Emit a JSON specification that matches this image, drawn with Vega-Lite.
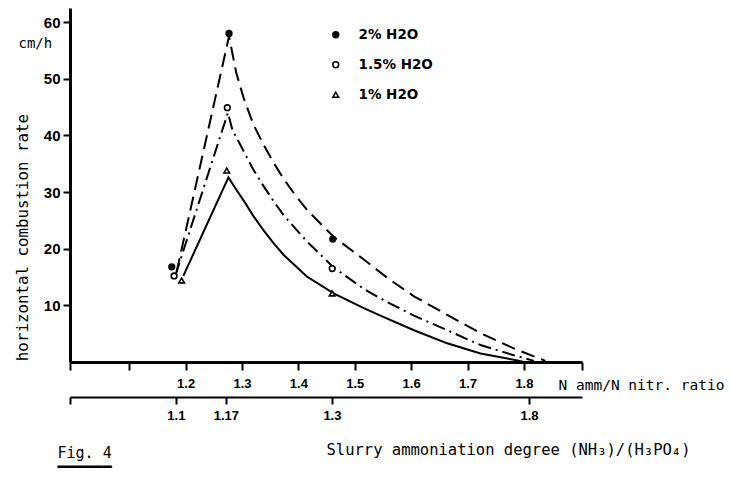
{
  "$schema": "https://vega.github.io/schema/vega-lite/v6.json",
  "width": 512,
  "height": 354,
  "autosize": "none",
  "padding": {"left": 70, "top": 8, "right": 148, "bottom": 123},
  "background": "white",
  "config": {
    "view": {"stroke": null},
    "axis": {"grid": false, "domainColor": "black", "tickColor": "black", "labelColor": "black", "titleColor": "black", "labelOverlap": false, "labelFlush": false, "titleFontWeight": "normal", "titleFont": "DejaVu Sans Mono"}
  },
  "datasets": {
    "curves": [
      {"series": "2% H2O", "x": 1.184, "y": 15.9},
      {"series": "2% H2O", "x": 1.277, "y": 57.5},
      {"series": "2% H2O", "x": 1.29, "y": 51.0},
      {"series": "2% H2O", "x": 1.303, "y": 46.6},
      {"series": "2% H2O", "x": 1.32, "y": 42.0},
      {"series": "2% H2O", "x": 1.338, "y": 38.4},
      {"series": "2% H2O", "x": 1.356, "y": 35.2},
      {"series": "2% H2O", "x": 1.374, "y": 32.3},
      {"series": "2% H2O", "x": 1.395, "y": 29.4},
      {"series": "2% H2O", "x": 1.415, "y": 26.9},
      {"series": "2% H2O", "x": 1.4625, "y": 22.1},
      {"series": "2% H2O", "x": 1.516, "y": 18.1},
      {"series": "2% H2O", "x": 1.557, "y": 14.9},
      {"series": "2% H2O", "x": 1.605, "y": 11.6},
      {"series": "2% H2O", "x": 1.664, "y": 8.3},
      {"series": "2% H2O", "x": 1.723, "y": 5.1},
      {"series": "2% H2O", "x": 1.782, "y": 2.4},
      {"series": "2% H2O", "x": 1.838, "y": 0.2},
      {"series": "1.5% H2O", "x": 1.182, "y": 15.3},
      {"series": "1.5% H2O", "x": 1.275, "y": 44.0},
      {"series": "1.5% H2O", "x": 1.283, "y": 41.0},
      {"series": "1.5% H2O", "x": 1.303, "y": 37.2},
      {"series": "1.5% H2O", "x": 1.32, "y": 34.0},
      {"series": "1.5% H2O", "x": 1.338, "y": 31.1},
      {"series": "1.5% H2O", "x": 1.356, "y": 28.4},
      {"series": "1.5% H2O", "x": 1.374, "y": 25.9},
      {"series": "1.5% H2O", "x": 1.415, "y": 21.3},
      {"series": "1.5% H2O", "x": 1.4625, "y": 16.7},
      {"series": "1.5% H2O", "x": 1.516, "y": 12.9},
      {"series": "1.5% H2O", "x": 1.557, "y": 10.6},
      {"series": "1.5% H2O", "x": 1.605, "y": 8.2},
      {"series": "1.5% H2O", "x": 1.664, "y": 5.6},
      {"series": "1.5% H2O", "x": 1.723, "y": 3.0},
      {"series": "1.5% H2O", "x": 1.782, "y": 1.2},
      {"series": "1.5% H2O", "x": 1.818, "y": 0.2},
      {"series": "1% H2O", "x": 1.196, "y": 15.2},
      {"series": "1% H2O", "x": 1.276, "y": 32.6},
      {"series": "1% H2O", "x": 1.29, "y": 30.4},
      {"series": "1% H2O", "x": 1.303, "y": 28.5},
      {"series": "1% H2O", "x": 1.32, "y": 25.8},
      {"series": "1% H2O", "x": 1.338, "y": 23.3},
      {"series": "1% H2O", "x": 1.356, "y": 21.0},
      {"series": "1% H2O", "x": 1.374, "y": 18.9},
      {"series": "1% H2O", "x": 1.415, "y": 15.1},
      {"series": "1% H2O", "x": 1.4625, "y": 12.1},
      {"series": "1% H2O", "x": 1.516, "y": 9.5},
      {"series": "1% H2O", "x": 1.5455, "y": 8.2},
      {"series": "1% H2O", "x": 1.605, "y": 5.6},
      {"series": "1% H2O", "x": 1.664, "y": 3.3},
      {"series": "1% H2O", "x": 1.723, "y": 1.5},
      {"series": "1% H2O", "x": 1.782, "y": 0.4},
      {"series": "1% H2O", "x": 1.80, "y": 0.0}
    ],
    "points": [
      {"series": "2% H2O", "x": 1.1755, "y": 16.8},
      {"series": "2% H2O", "x": 1.277, "y": 58.0},
      {"series": "2% H2O", "x": 1.461, "y": 21.7},
      {"series": "1.5% H2O", "x": 1.1796, "y": 15.2},
      {"series": "1.5% H2O", "x": 1.274, "y": 44.9},
      {"series": "1.5% H2O", "x": 1.46, "y": 16.5},
      {"series": "1% H2O", "x": 1.193, "y": 14.4},
      {"series": "1% H2O", "x": 1.273, "y": 33.8},
      {"series": "1% H2O", "x": 1.46, "y": 12.1}
    ]
  },
  "layer": [
    {
      "data": {"name": "curves"},
      "transform": [{"filter": "datum.series == '2% H2O'"}],
      "mark": {"type": "line", "color": "black", "strokeWidth": 2, "strokeDash": [14, 7]},
      "encoding": {
        "x": {
          "field": "x", "type": "quantitative",
          "scale": {"domain": [0.995, 1.903], "nice": false, "zero": false},
          "axis": {
            "orient": "bottom",
            "values": [0.995, 1.1, 1.2, 1.3, 1.4, 1.5, 1.6, 1.7, 1.8, 1.903],
            "labelExpr": "datum.value > 1.15 && datum.value < 1.85 ? format(datum.value, '.1f') : ''",
            "domainWidth": 3, "tickWidth": 2, "tickSize": 8, "labelPadding": 7,
            "labelFont": "Liberation Sans", "labelFontWeight": "bold", "labelFontSize": 13,
            "title": "N amm/N nitr. ratio", "titleX": 488, "titleY": 23, "titleAlign": "left", "titleBaseline": "middle",
            "titleFontSize": 14.5
          }
        },
        "y": {
          "field": "y", "type": "quantitative",
          "scale": {"domain": [0, 62.5], "nice": false},
          "axis": {
            "orient": "left",
            "values": [10, 20, 30, 40, 50, 60],
            "domainWidth": 3, "tickWidth": 2, "tickSize": 7, "labelPadding": 3,
            "labelFont": "Liberation Sans", "labelFontWeight": "bold", "labelFontSize": 15,
            "title": "horizontal combustion rate", "titleX": -48, "titleY": 229, "titleAngle": 270,
            "titleAlign": "center", "titleBaseline": "middle", "titleFontSize": 15.8
          }
        }
      }
    },
    {
      "data": {"name": "curves"},
      "transform": [{"filter": "datum.series == '1.5% H2O'"}],
      "mark": {"type": "line", "color": "black", "strokeWidth": 2, "strokeDash": [13, 5, 2, 5]},
      "encoding": {
        "x": {
          "field": "x", "type": "quantitative",
          "axis": {
            "orient": "bottom", "domain": false, "ticks": false, "labels": false,
            "title": ["Fig. 4", "━━━━━━"], "titleX": -13, "titleY": 83, "titleLineHeight": 14,
            "titleAlign": "left", "titleBaseline": "top", "titleFontSize": 15
          }
        },
        "y": {"field": "y", "type": "quantitative", "axis": null}
      }
    },
    {
      "data": {"name": "curves"},
      "transform": [{"filter": "datum.series == '1% H2O'"}],
      "mark": {"type": "line", "color": "black", "strokeWidth": 2},
      "encoding": {
        "x": {"field": "x", "type": "quantitative", "axis": null},
        "y": {"field": "y", "type": "quantitative", "axis": null}
      }
    },
    {
      "data": {"name": "points"},
      "mark": {"type": "point", "stroke": "black", "strokeWidth": 1.6, "opacity": 1, "size": 32},
      "encoding": {
        "x": {
          "field": "x", "type": "quantitative",
          "axis": {
            "orient": "bottom", "offset": 35,
            "values": [0.995, 1.1828, 1.2715, 1.4595, 1.8089],
            "labelExpr": "datum.value < 1.05 ? '' : datum.value < 1.22 ? '1.1' : datum.value < 1.35 ? '1.17' : datum.value < 1.6 ? '1.3' : '1.8'",
            "domainWidth": 2, "tickWidth": 2, "tickSize": 7, "labelPadding": 5,
            "labelFont": "Liberation Sans", "labelFontWeight": "bold", "labelFontSize": 13,
            "title": "Slurry ammoniation degree (NH₃)/(H₃PO₄)", "titleX": 438, "titleY": 52,
            "titleAlign": "center", "titleBaseline": "middle", "titleFontSize": 15.5
          }
        },
        "y": {
          "field": "y", "type": "quantitative",
          "axis": {
            "orient": "left", "domain": false, "ticks": false, "labels": false,
            "title": "cm/h", "titleAngle": 0, "titleX": -52, "titleY": 35,
            "titleAlign": "left", "titleBaseline": "middle", "titleFontSize": 14
          }
        },
        "shape": {
          "field": "series", "type": "nominal",
          "scale": {"domain": ["2% H2O", "1.5% H2O", "1% H2O"], "range": ["circle", "circle", "triangle-up"]},
          "legend": {
            "title": null, "orient": "none", "legendX": 259, "legendY": 20, "padding": 0,
            "symbolSize": 34,
            "labelFont": "DejaVu Sans", "labelFontWeight": "bold", "labelFontSize": 13.5, "labelColor": "black",
            "labelOffset": 16, "rowPadding": 15,
            "encode": {"symbols": {"update": {"stroke": {"value": "black"}, "strokeWidth": {"value": 1.6}, "opacity": {"value": 1}}}}
          }
        },
        "fill": {
          "field": "series", "type": "nominal",
          "scale": {"domain": ["2% H2O", "1.5% H2O", "1% H2O"], "range": ["black", "white", "white"]},
          "legend": {
            "title": null, "orient": "none", "legendX": 259, "legendY": 20, "padding": 0,
            "symbolSize": 34,
            "labelFont": "DejaVu Sans", "labelFontWeight": "bold", "labelFontSize": 13.5, "labelColor": "black",
            "labelOffset": 16, "rowPadding": 15,
            "encode": {"symbols": {"update": {"stroke": {"value": "black"}, "strokeWidth": {"value": 1.6}, "opacity": {"value": 1}}}}
          }
        }
      }
    }
  ],
  "resolve": {"axis": {"x": "independent", "y": "independent"}}
}
